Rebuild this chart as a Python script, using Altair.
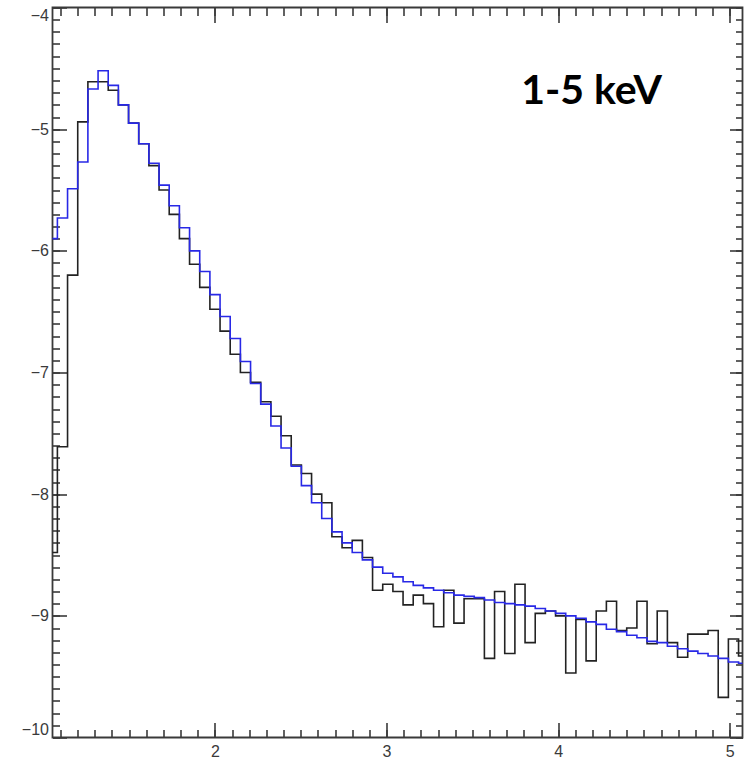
import altair as alt
import pandas as pd

# Bin edges (keV) of the spectrum histogram
edges = [1.0229, 1.0821, 1.1413, 1.2006, 1.2598, 1.3191, 1.3783, 1.4375, 1.4968, 1.5560,
         1.6152, 1.6745, 1.7337, 1.7930, 1.8522, 1.9114, 1.9707, 2.0299, 2.0891, 2.1484,
         2.2076, 2.2669, 2.3261, 2.3853, 2.4446, 2.5038, 2.5631, 2.6223, 2.6815, 2.7408,
         2.8000, 2.8592, 2.9185, 2.9777, 3.0370, 3.0962, 3.1554, 3.2147, 3.2739, 3.3331,
         3.3924, 3.4516, 3.5109, 3.5701, 3.6293, 3.6886, 3.7478, 3.8070, 3.8663, 3.9255,
         3.9848, 4.0440, 4.1032, 4.1625, 4.2217, 4.2809, 4.3402, 4.3994, 4.4587, 4.5179,
         4.5771, 4.6364, 4.6956, 4.7548, 4.8141, 4.8733, 4.9326, 4.9918, 5.0510, 5.1103]

# Observed spectrum (black), log values per bin
observed = [-8.48, -7.61, -6.20, -4.94, -4.61, -4.61, -4.68, -4.80, -4.95, -5.12,
            -5.30, -5.50, -5.70, -5.90, -6.11, -6.30, -6.48, -6.66, -6.85, -7.00,
            -7.08, -7.24, -7.36, -7.52, -7.76, -7.83, -8.00, -8.07, -8.35, -8.44,
            -8.38, -8.52, -8.79, -8.74, -8.80, -8.91, -8.83, -8.90, -9.09, -8.79,
            -9.06, -8.86, -8.86, -9.35, -8.80, -9.31, -8.74, -9.22, -8.98, -8.96,
            -9.00, -9.47, -9.03, -9.37, -8.96, -8.88, -9.12, -9.10, -8.88, -9.23,
            -8.96, -9.22, -9.34, -9.15, -9.15, -9.12, -9.67, -9.19, -9.33]

# Model spectrum (blue)
model = [-5.90, -5.73, -5.49, -5.27, -4.67, -4.52, -4.64, -4.80, -4.95, -5.12,
         -5.28, -5.46, -5.63, -5.81, -6.00, -6.17, -6.36, -6.54, -6.72, -6.91,
         -7.09, -7.26, -7.44, -7.62, -7.77, -7.93, -8.07, -8.20, -8.31, -8.40,
         -8.48, -8.54, -8.60, -8.65, -8.68, -8.72, -8.75, -8.77, -8.79, -8.81,
         -8.83, -8.84, -8.85, -8.87, -8.89, -8.90, -8.91, -8.92, -8.94, -8.96,
         -8.98, -9.00, -9.02, -9.05, -9.07, -9.11, -9.13, -9.16, -9.18, -9.21,
         -9.22, -9.25, -9.27, -9.29, -9.31, -9.33, -9.35, -9.38, -9.39]

x_labels = [2, 3, 4, 5]
y_labels = [-10, -9, -8, -7, -6, -5, -4]
x_minor = [round(1.1 + 0.1 * i, 1) for i in range(40)]
y_minor = [round(-10 + 0.1 * i, 1) for i in range(61)]

annot_text = ["1-5 keV"]
annot_x = [4.1945]
annot_y = [-4.797]

X_DOMAIN = [1.0536, 5.074]
Y_DOMAIN = [-10, -4]
W, H = 690, 730
FRAME = "#3a3a3a"

def step_frame(vals):
    return pd.DataFrame({"energy": edges, "value": list(vals) + [vals[-1]]})

xs = alt.Scale(domain=X_DOMAIN, nice=False, zero=False)
ys = alt.Scale(domain=Y_DOMAIN, nice=False, zero=False)

def tick_axis(orient, offset, values, size):
    return alt.Axis(orient=orient, offset=offset, values=values, labels=False,
                    domain=False, grid=False, title=None, tickColor=FRAME,
                    tickWidth=1.6, tickSize=size)

label_font = "Liberation Sans"
minus_expr = "datum.value < 0 ? '\u2212' + format(abs(datum.value), 'd') : format(datum.value, 'd')"

# black observed histogram carries the labelled axes
black = alt.Chart(step_frame(observed)).mark_line(
    interpolate="step-after", color="#222222", strokeWidth=1.6, clip=True
).encode(
    x=alt.X("energy:Q", scale=xs,
            axis=alt.Axis(orient="bottom", values=x_labels, ticks=False, domain=False,
                          grid=False, title=None, labelPadding=6, labelFontSize=16,
                          labelColor=FRAME, labelFont=label_font, format="d",
                          labelFlush=False)),
    y=alt.Y("value:Q", scale=ys,
            axis=alt.Axis(orient="left", values=y_labels, ticks=False, domain=False,
                          grid=False, title=None, labelPadding=4, labelFontSize=16,
                          labelColor=FRAME, labelFont=label_font, labelExpr=minus_expr,
                          labelFlush=True)),
)

# minor inward ticks (bottom + left), carried by an invisible copy of the model
minor_a = alt.Chart(step_frame(model)).mark_line(
    interpolate="step-after", strokeOpacity=0, clip=True
).encode(
    x=alt.X("energy:Q", scale=xs, axis=tick_axis("top", -H, x_minor, 8)),
    y=alt.Y("value:Q", scale=ys, axis=tick_axis("right", -W, y_minor, 7)),
)

# minor inward ticks (top + right)
minor_b = alt.Chart(step_frame(model)).mark_line(
    interpolate="step-after", strokeOpacity=0, clip=True
).encode(
    x=alt.X("energy:Q", scale=xs, axis=tick_axis("bottom", -H, x_minor, 8)),
    y=alt.Y("value:Q", scale=ys, axis=tick_axis("left", -W, y_minor, 7)),
)

# blue model histogram, major inward ticks (bottom + left)
blue = alt.Chart(step_frame(model)).mark_line(
    interpolate="step-after", color="#2828e6", strokeWidth=1.6, clip=True
).encode(
    x=alt.X("energy:Q", scale=xs, axis=tick_axis("top", -H, x_labels, 15)),
    y=alt.Y("value:Q", scale=ys, axis=tick_axis("right", -W, y_labels, 14)),
)

# annotation, major inward ticks (top + right)
label = alt.Chart(pd.DataFrame({"t": annot_text, "energy": annot_x, "value": annot_y})).mark_text(
    font="Lato", fontWeight="bold", fontSize=41, color="#000000",
    align="center", baseline="alphabetic"
).encode(
    x=alt.X("energy:Q", scale=xs, axis=tick_axis("bottom", -H, x_labels, 15)),
    y=alt.Y("value:Q", scale=ys, axis=tick_axis("left", -W, y_labels, 13)),
    text="t:N",
)

chart = alt.layer(minor_a, minor_b, black, blue, label).resolve_axis(
    x="independent", y="independent"
).properties(
    width=W, height=H,
    background="white",
    autosize=alt.AutoSizeParams(type="none"),
    padding={"left": 52.5, "top": 7.5, "right": 7.5, "bottom": 23.5},
).configure_view(
    stroke=FRAME, strokeWidth=1.8
)

chart.save("out.html", embed_options={"renderer": "svg", "actions": False})
